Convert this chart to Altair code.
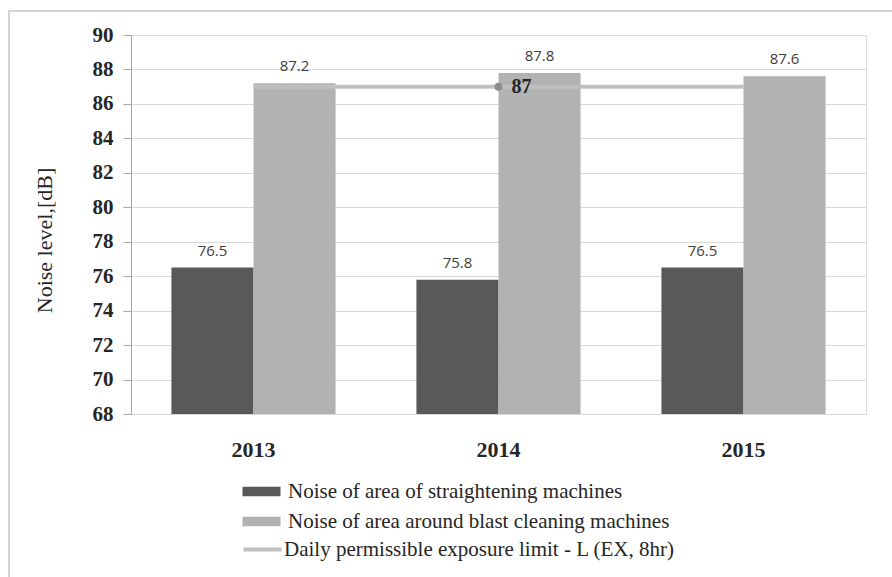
import altair as alt
import pandas as pd

# Chart values
years = ["2013", "2014", "2015"]
straightening = [76.5, 75.8, 76.5]
blast_cleaning = [87.2, 87.8, 87.6]
exposure_limit = [87, 87, 87]
marked_year = "2014"

bar_series = [
    "\u2002Noise of area of straightening machines",
    "Noise of area around blast cleaning machines",
]
limit_series = "Daily permissible exposure limit - L (EX, 8hr)"
y_ticks = list(range(68, 91, 2))

bars_df = pd.DataFrame({
    "year": years * 2,
    "series": [bar_series[0]] * len(years) + [bar_series[1]] * len(years),
    "value": straightening + blast_cleaning,
})
limit_df = pd.DataFrame({
    "year": years,
    "series": [limit_series] * len(years),
    "value": exposure_limit,
})

SERIF = "Liberation Serif"
TEXT = "#262626"

x_enc = alt.X(
    "year:N",
    sort=years,
    scale=alt.Scale(paddingInner=0.33, paddingOuter=0.165),
    axis=alt.Axis(
        title=None, labelAngle=0, ticks=False, labelPadding=25,
        labelFont=SERIF, labelFontSize=22, labelFontWeight="bold",
        labelColor=TEXT, domainColor="#d9d9d9", domainWidth=1, grid=False,
    ),
)
y_enc = alt.Y(
    "value:Q",
    scale=alt.Scale(domain=[68, 90], zero=False, nice=False),
    axis=alt.Axis(
        title="Noise level,[dB]", values=y_ticks, format="d",
        labelFont=SERIF, labelFontSize=21, labelFontWeight="bold",
        labelColor=TEXT, labelPadding=10, tickSize=8, tickColor="#a6a6a6",
        domainColor="#a6a6a6", gridColor="#d9d9d9", gridWidth=1.2,
        titleFont=SERIF, titleFontSize=22, titleFontWeight="normal",
        titleColor=TEXT, titleAngle=-90, titleX=-87, titleY=205,
        titleAlign="center", titleBaseline="middle",
    ),
)

frame = alt.Chart(pd.DataFrame({"k": [0]})).mark_rect(
    fillOpacity=0, stroke="#d4d4d4", strokeWidth=2
).encode(
    x=alt.value(-122), x2=alt.value(900), y=alt.value(-24), y2=alt.value(600)
)

offset_enc = alt.XOffset(
    "series:N", sort=bar_series,
    scale=alt.Scale(domain=bar_series, paddingInner=0, paddingOuter=0),
)

bars = alt.Chart(bars_df).mark_bar().encode(
    x=x_enc,
    xOffset=offset_enc,
    y=y_enc,
    y2=alt.datum(68),
    color=alt.Color(
        "series:N",
        scale=alt.Scale(domain=bar_series, range=["#595959", "#b2b2b2"]),
        legend=alt.Legend(
            title=None, orient="none", legendX=120, legendY=446,
            symbolType="M-2,-0.5H2V0.5H-2Z", symbolSize=361,
            symbolStrokeWidth=0, symbolOpacity=1,
            labelFont=SERIF, labelFontSize=21, labelColor=TEXT,
            labelOffset=16, rowPadding=8, padding=0, labelLimit=0,
        ),
    ),
)

bar_labels = alt.Chart(bars_df).mark_text(
    font="Open Sans", fontSize=15, color="#404040", baseline="alphabetic", dy=-12
).encode(
    x=x_enc,
    xOffset=offset_enc,
    y=y_enc,
    text=alt.Text("value:Q", format=".1f"),
)

limit_line = alt.Chart(limit_df).mark_line(strokeWidth=4).encode(
    x=x_enc,
    y=y_enc,
    stroke=alt.Stroke(
        "series:N",
        scale=alt.Scale(domain=[limit_series], range=["#bfbfbf"]),
        legend=alt.Legend(
            title=None, orient="none", legendX=120, legendY=503,
            symbolType="M-2,0H2", symbolSize=361, symbolStrokeWidth=4,
            labelFont=SERIF, labelFontSize=21, labelColor=TEXT,
            labelOffset=10, padding=0, labelLimit=0,
        ),
    ),
)

marked = limit_df[limit_df["year"] == marked_year]
limit_point = alt.Chart(marked).mark_circle(size=64, color="#8c8c8c", opacity=1).encode(
    x=x_enc, y=y_enc
)
limit_label = alt.Chart(marked).mark_text(
    font=SERIF, fontSize=20, fontWeight="bold", color=TEXT,
    align="left", baseline="middle", dx=13,
).encode(
    x=x_enc, y=y_enc, text=alt.Text("value:Q", format="d")
)

chart = alt.layer(
    frame, bars, bar_labels, limit_line, limit_point, limit_label
).properties(
    width=735,
    height=379,
    padding={"left": 131, "top": 35, "right": 26, "bottom": 163},
    autosize=alt.AutoSizeParams(type="none"),
).configure_view(
    stroke=None
).configure(
    background="white"
)

chart.save("out.html", embed_options={"renderer": "svg", "actions": False})
